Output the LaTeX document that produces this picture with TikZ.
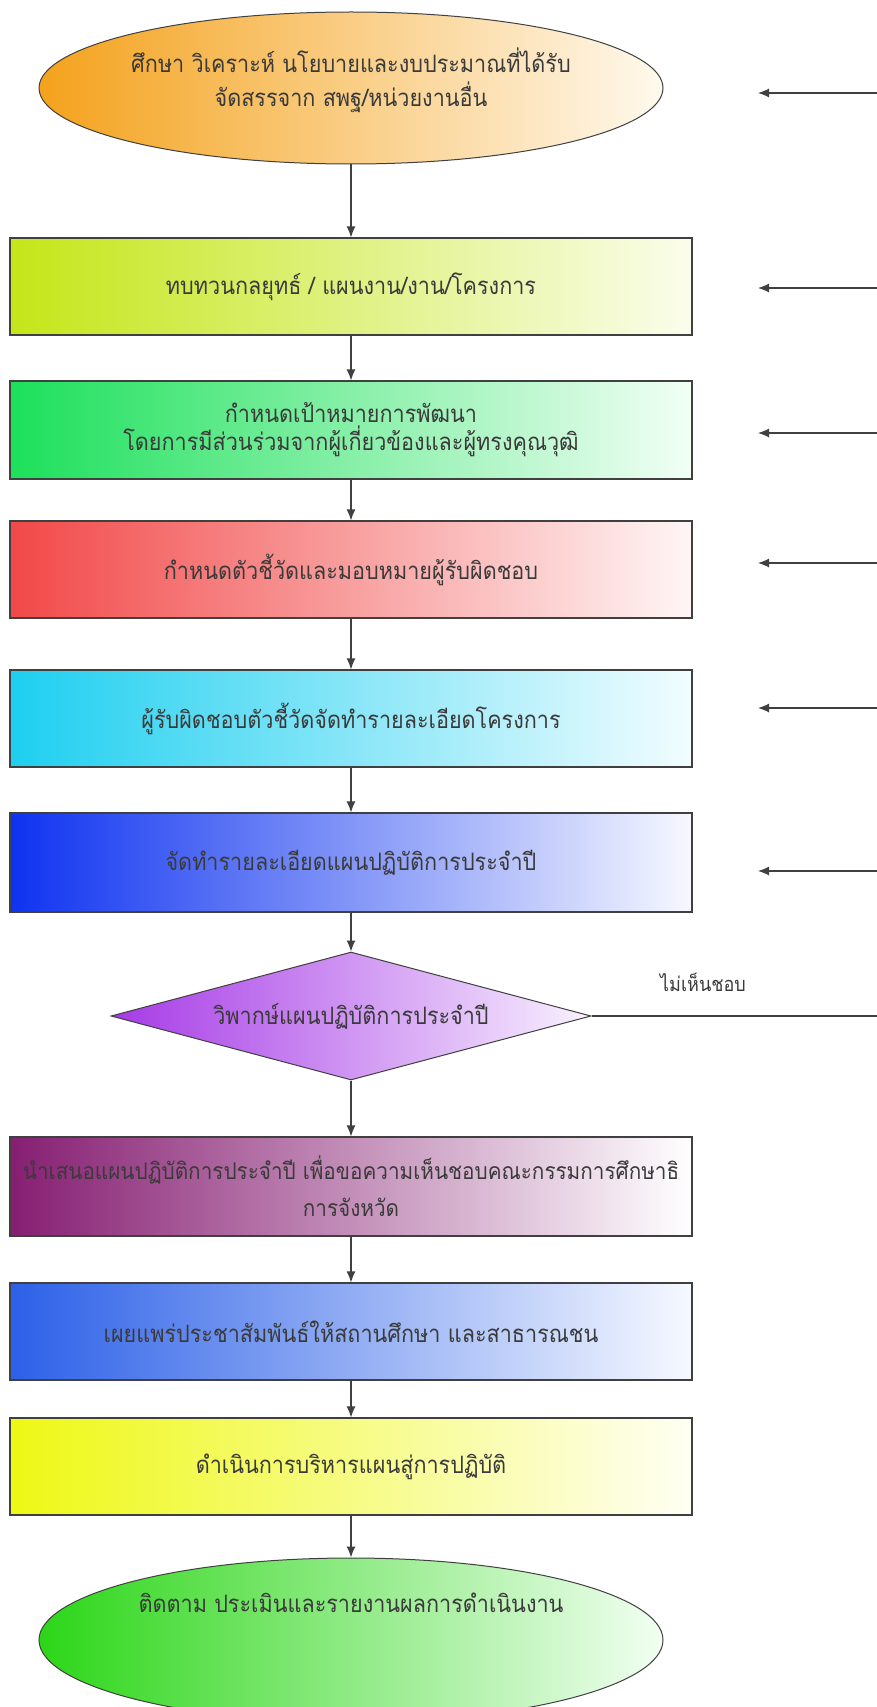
\documentclass[tikz,border=0pt]{standalone}
\usepackage{fontspec}
\newfontfamily\thaifont[Script=Thai,FakeStretch=0.9]{Loma}
\usetikzlibrary{shapes.geometric,arrows.meta}
\definecolor{c0}{HTML}{F4A21C}\definecolor{c0r}{HTML}{FFF9EE}
\definecolor{c1}{HTML}{C4E618}\definecolor{c1r}{HTML}{FBFDEC}
\definecolor{c2}{HTML}{1CE05A}\definecolor{c2r}{HTML}{F2FFF6}
\definecolor{c3}{HTML}{F24848}\definecolor{c3r}{HTML}{FFF6F6}
\definecolor{c4}{HTML}{1ECFF0}\definecolor{c4r}{HTML}{F2FDFF}
\definecolor{c5}{HTML}{0E33F0}\definecolor{c5r}{HTML}{F7F8FF}
\definecolor{c6}{HTML}{A63AE6}\definecolor{c6r}{HTML}{F9F2FF}
\definecolor{c7}{HTML}{861E72}\definecolor{c7r}{HTML}{FFFFFF}
\definecolor{c8}{HTML}{2C60E8}\definecolor{c8r}{HTML}{F6F9FF}
\definecolor{c9}{HTML}{EEF814}\definecolor{c9r}{HTML}{FFFFF4}
\definecolor{c10}{HTML}{2CD618}\definecolor{c10r}{HTML}{F2FFF2}
\definecolor{edge}{HTML}{404040}
\definecolor{ink}{HTML}{3A3A3A}
\tikzset{
  conn/.style={draw=edge, line width=1.2pt, -{Latex[length=11pt,width=9pt]}},
  plain/.style={draw=edge, line width=1.2pt},
  txtfont/.style={font=\thaifont\fontsize{24}{30}\selectfont},
  stepbox/.style={rectangle, draw=edge, line width=1.1pt, minimum width=682pt,
    minimum height=97pt, align=center, inner sep=0pt, txtfont},
  ell/.style={ellipse, draw=edge, line width=1pt, minimum width=624pt,
    minimum height=152pt, inner sep=0pt},
  dia/.style={diamond, aspect=3.75, draw=edge, line width=1pt, minimum width=480pt,
    minimum height=128pt, inner sep=0pt, align=center, txtfont},
  lbl/.style={align=center, inner sep=0pt, txtfont},
}
\begin{document}
\begin{tikzpicture}[x=1pt,y=-1pt]
\fill[white] (0,0) rectangle (877,1707);
\useasboundingbox (0,0) rectangle (877,1707);

\node[ell, left color=c0, right color=c0r] (start) at (351,88) {};
\node[lbl, text=ink, font=\thaifont\fontsize{24}{34}\selectfont] (starttxt) at (351,80)
  {ศึกษา วิเคราะห์ นโยบายและงบประมาณที่ได้รับ\\จัดสรรจาก สพฐ/หน่วยงานอื่น};

\node[stepbox, left color=c1, right color=c1r, text=ink] (b1) at (351,286.5)
  {ทบทวนกลยุทธ์ / แผนงาน/งาน/โครงการ};
\node[stepbox, left color=c2, right color=c2r, text=ink, minimum height=98pt,
  font=\thaifont\fontsize{24}{28}\selectfont] (b2) at (351,430)
  {กำหนดเป้าหมายการพัฒนา\\โดยการมีส่วนร่วมจากผู้เกี่ยวข้องและผู้ทรงคุณวุฒิ};
\node[stepbox, left color=c3, right color=c3r, text=ink] (b3) at (351,569.5)
  {กำหนดตัวชี้วัดและมอบหมายผู้รับผิดชอบ};
\node[stepbox, left color=c4, right color=c4r, text=ink] (b4) at (351,718.5)
  {ผู้รับผิดชอบตัวชี้วัดจัดทำรายละเอียดโครงการ};
\node[stepbox, left color=c5, right color=c5r, text=ink, minimum height=99pt] (b5) at (351,862.5)
  {จัดทำรายละเอียดแผนปฏิบัติการประจำปี};
\node[dia, left color=c6, right color=c6r, text=ink] (d) at (351,1016)
  {วิพากษ์แผนปฏิบัติการประจำปี};
\node[stepbox, left color=c7, right color=c7r, text=ink, minimum height=99pt,
  font=\thaifont\fontsize{23}{37}\selectfont] (b7) at (351,1186.5)
  {นำเสนอแผนปฏิบัติการประจำปี เพื่อขอความเห็นชอบคณะกรรมการศึกษาธิ\\การจังหวัด};
\node[stepbox, left color=c8, right color=c8r, text=ink] (b8) at (351,1331.5)
  {เผยแพร่ประชาสัมพันธ์ให้สถานศึกษา และสาธารณชน};
\node[stepbox, left color=c9, right color=c9r, text=ink] (b9) at (351,1466.5)
  {ดำเนินการบริหารแผนสู่การปฏิบัติ};
\node[ell, left color=c10, right color=c10r, minimum height=164pt] (end) at (351,1640) {};
\node[lbl, text=ink] (endtxt) at (351,1603) {ติดตาม ประเมินและรายงานผลการดำเนินงาน};

\draw[conn] (start.south) -- (b1.north);
\draw[conn] (b1.south) -- (b2.north);
\draw[conn] (b2.south) -- (b3.north);
\draw[conn] (b3.south) -- (b4.north);
\draw[conn] (b4.south) -- (b5.north);
\draw[conn] (b5.south) -- (d.north);
\draw[conn] (d.south) -- (b7.north);
\draw[conn] (b7.south) -- (b8.north);
\draw[conn] (b8.south) -- (b9.north);
\draw[conn] (b9.south) -- (end.north);

\coordinate (r1s) at (877,93);  \coordinate (r1e) at (758,93);
\coordinate (r2s) at (877,288); \coordinate (r2e) at (758,288);
\coordinate (r3s) at (877,433); \coordinate (r3e) at (758,433);
\coordinate (r4s) at (877,563); \coordinate (r4e) at (758,563);
\coordinate (r5s) at (877,708); \coordinate (r5e) at (758,708);
\coordinate (r6s) at (877,871); \coordinate (r6e) at (758,871);
\foreach \i in {1,...,6} {\draw[conn] (r\i s) -- (r\i e);}

\coordinate (fb) at (877,1016);
\draw[plain] (d.east) -- (fb);
\node[lbl, text=ink, font=\thaifont\fontsize{20}{22}\selectfont] (no) at (703,982) {ไม่เห็นชอบ};
\end{tikzpicture}
\end{document}
